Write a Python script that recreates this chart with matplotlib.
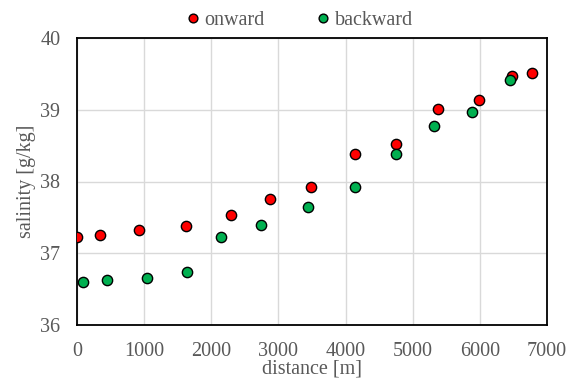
import matplotlib.pyplot as plt

# Salinity along the transect
onward_dist = [0, 340, 930, 1630, 2300, 2880, 3490, 4140, 4750, 5380, 5980, 6480, 6780]
onward_sal = [37.22, 37.25, 37.33, 37.38, 37.54, 37.76, 37.92, 38.39, 38.52, 39.01, 39.13, 39.47, 39.51]

backward_dist = [95, 445, 1040, 1635, 2140, 2740, 3440, 4140, 4750, 5320, 5880, 6450]
backward_sal = [36.60, 36.63, 36.65, 36.74, 37.22, 37.40, 37.64, 37.92, 38.39, 38.77, 38.97, 39.41]

plt.rcParams['font.family'] = ['Liberation Serif', 'DejaVu Serif']
text_color = '#595959'
fs = 14.5

fig = plt.figure(figsize=(5.75, 3.79), dpi=100)
ax = fig.add_axes([77 / 575, 1 - 325 / 379, (547 - 77) / 575, (325 - 38) / 379])

ax.plot(onward_dist, onward_sal, 'o', color='#FF0000', markeredgecolor='black',
        markeredgewidth=1, markersize=7.4, label='onward', zorder=3)
ax.plot(backward_dist, backward_sal, 'o', color='#00B050', markeredgecolor='black',
        markeredgewidth=1, markersize=7.4, label='backward', zorder=3)

ax.set_xlim(0, 7000)
ax.set_ylim(36, 40)
ax.set_xticks(range(0, 7001, 1000))
ax.set_yticks([36, 37, 38, 39, 40])
ax.grid(True, color='#D9D9D9', linewidth=1)
ax.set_axisbelow(True)
ax.tick_params(length=0, pad=12, labelsize=fs, labelcolor=text_color)
for s in ax.spines.values():
    s.set_linewidth(1.3)
    s.set_color('black')

ax.set_xlabel('distance [m]', fontsize=fs, color=text_color, labelpad=-1)
ax.set_ylabel('salinity [g/kg]', fontsize=fs, color=text_color, labelpad=3)

fig.legend(loc='center', bbox_to_anchor=(298 / 575, 1 - 20 / 379), ncol=2,
           frameon=False, fontsize=fs, labelcolor=text_color, handletextpad=0.1,
           columnspacing=2.4, handlelength=1.0, markerscale=0.85)

fig.savefig('out.png', dpi=100)
